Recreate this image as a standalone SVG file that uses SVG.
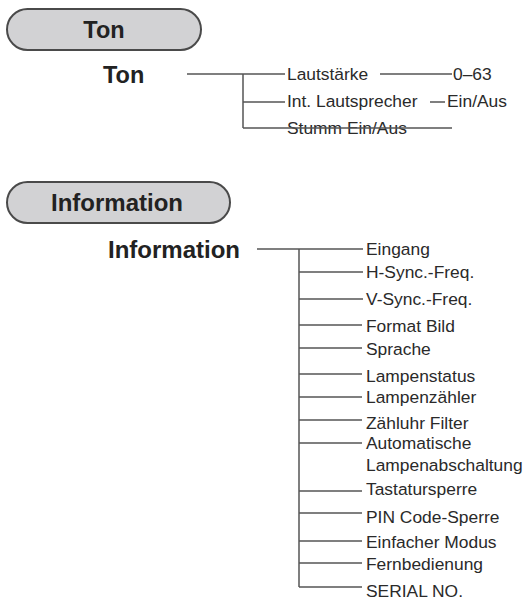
<svg xmlns="http://www.w3.org/2000/svg" width="529" height="604" viewBox="0 0 529 604">
<style>
.pill{fill:#d2d2d4;stroke:#4a4a4a;stroke-width:2}
.h{font-family:"Liberation Sans",Arial,sans-serif;font-weight:bold;fill:#222}
.t{font-family:"Liberation Sans",Arial,sans-serif;font-size:17.4px;fill:#2a2a2a}
.c{stroke:#555;stroke-width:1.5;fill:none}
</style>
<rect width="529" height="604" fill="#fff"/>
<g id="header-ton">
<rect class="pill" x="7" y="9" width="194" height="41" rx="20.5"/>
<text class="h" x="104" y="38" font-size="23.5" text-anchor="middle">Ton</text>
</g>
<g id="ton-root"><text class="h" x="103" y="83" font-size="23.5">Ton</text></g>
<g id="ton-items">
<text class="t" x="287" y="80">Lautstärke</text>
<text class="t" x="453" y="80">0–63</text>
<text class="t" x="287" y="107">Int. Lautsprecher</text>
<text class="t" x="447" y="107">Ein/Aus</text>
<text class="t" x="287" y="134">Stumm Ein/Aus</text>
</g>
<g id="header-information">
<rect class="pill" x="7" y="182" width="223" height="41" rx="20.5"/>
<text class="h" x="117" y="211" font-size="24" text-anchor="middle">Information</text>
</g>
<g id="information-root"><text class="h" x="108" y="258" font-size="24">Information</text></g>
<g id="information-items">
<text class="t" x="366" y="255">Eingang</text>
<text class="t" x="366" y="278">H-Sync.-Freq.</text>
<text class="t" x="366" y="305">V-Sync.-Freq.</text>
<text class="t" x="366" y="332">Format Bild</text>
<text class="t" x="366" y="355">Sprache</text>
<text class="t" x="366" y="382">Lampenstatus</text>
<text class="t" x="366" y="403">Lampenzähler</text>
<text class="t" x="366" y="429">Zähluhr Filter</text>
<text class="t" x="366" y="449">Automatische</text>
<text class="t" x="366" y="471">Lampenabschaltung</text>
<text class="t" x="366" y="495">Tastatursperre</text>
<text class="t" x="366" y="523">PIN Code-Sperre</text>
<text class="t" x="366" y="548">Einfacher Modus</text>
<text class="t" x="366" y="570">Fernbedienung</text>
<text class="t" x="366" y="597">SERIAL NO.</text>
</g>
<g id="connectors">
<path class="c" d="M187 74H285M243 74V128M243 102H285M243 128H452M380 74H452M430 102H445"/>
<path class="c" d="M257 249H363M299 249V587M299 272H363M299 299H363M299 325H362M299 348H362M299 374H362M299 397H362M299 420H362M299 443H362M299 491H362M299 513H362M299 541H362M299 563H362M299 587H362"/>
</g>
</svg>
